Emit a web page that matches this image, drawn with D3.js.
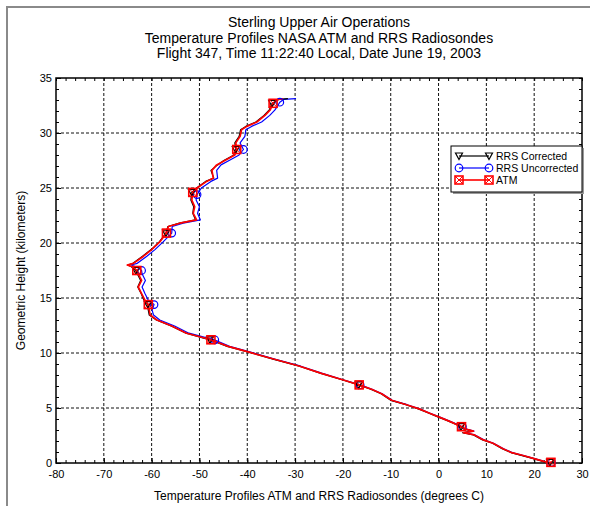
<!DOCTYPE html>
<html>
<head>
<meta charset="utf-8">
<script src="https://cdn.jsdelivr.net/npm/d3@7"></script>
<style>
  body { margin: 0; background: #fff; }
  svg { font-family: Arial, "Liberation Sans", sans-serif; }
</style>
</head>
<body>
<div id="chart"></div>
<script>
// 1: DATA (temperature degC, height km)
const titleLines = [
    "Sterling Upper Air Operations",
    "Temperature Profiles NASA ATM and RRS Radiosondes",
    "Flight 347, Time 11:22:40 Local, Date June 19, 2003"
];
const xTicks = [-80, -70, -60, -50, -40, -30, -20, -10, 0, 10, 20, 30];
const yTicks = [0, 5, 10, 15, 20, 25, 30, 35];
const seriesNames = ["RRS Corrected", "RRS Uncorrected", "ATM"];

const atmProfile = [
    [23.5, 0.0], [22.0, 0.15], [19.8, 0.42], [17.5, 0.7], [15.3, 0.94], [13.5, 1.3],
    [11.4, 1.8], [9.4, 2.1], [7.5, 2.55], [5.2, 2.75], [7.3, 2.9], [5.5, 3.1],
    [4.8, 3.3], [3.3, 3.6], [1.7, 3.9], [0.3, 4.15], [-2.0, 4.55], [-3.9, 4.9],
    [-6.7, 5.3], [-9.8, 5.7], [-11.9, 6.3], [-14.0, 6.7], [-16.6, 7.1], [-19.9, 7.55],
    [-24.5, 8.15], [-29.0, 8.8], [-34.5, 9.45], [-39.8, 10.1], [-44.0, 10.6], [-47.6, 11.2],
    [-52.7, 11.8], [-55.8, 12.45], [-58.9, 13.0], [-60.3, 13.45], [-60.5, 13.9], [-60.7, 14.4],
    [-61.4, 14.8], [-62.1, 15.4], [-62.8, 16.0], [-62.1, 16.6], [-62.8, 17.2], [-63.1, 17.5],
    [-63.8, 17.8], [-65.1, 18.0], [-63.8, 18.15], [-61.7, 18.8], [-60.0, 19.4], [-58.3, 20.1],
    [-56.9, 20.9], [-56.5, 21.5], [-54.1, 21.8], [-50.6, 22.1], [-51.3, 22.7], [-51.0, 23.3],
    [-51.6, 23.9], [-51.4, 24.6], [-50.5, 25.0], [-48.5, 25.6], [-47.1, 25.9], [-47.4, 26.6],
    [-46.4, 27.1], [-44.7, 27.5], [-42.6, 28.0], [-42.2, 28.5], [-42.4, 29.1], [-41.5, 29.7],
    [-41.2, 30.3], [-40.1, 30.6], [-38.0, 31.0], [-36.3, 31.6], [-35.2, 32.1], [-34.6, 32.7],
    [-33.6, 33.05], [-32.5, 33.1]
];
const rrsCorrected = [
    [23.3, 0.0], [21.8, 0.15], [19.7, 0.42], [17.3, 0.7], [15.2, 0.95], [13.3, 1.3],
    [11.3, 1.8], [9.2, 2.1], [7.3, 2.55], [5.0, 2.75], [7.1, 2.9], [5.3, 3.1],
    [4.7, 3.3], [3.2, 3.6], [1.6, 3.9], [0.1, 4.15], [-2.1, 4.55], [-4.1, 4.9],
    [-6.8, 5.3], [-10.0, 5.7], [-12.0, 6.3], [-14.2, 6.7], [-16.7, 7.1], [-20.0, 7.55],
    [-24.6, 8.15], [-29.1, 8.8], [-34.6, 9.45], [-39.9, 10.1], [-44.2, 10.6], [-47.8, 11.2],
    [-52.8, 11.8], [-55.9, 12.45], [-59.0, 13.0], [-60.5, 13.45], [-60.7, 13.9], [-60.8, 14.4],
    [-61.6, 14.8], [-62.2, 15.4], [-62.9, 16.0], [-62.3, 16.6], [-63.0, 17.2], [-63.3, 17.5],
    [-64.0, 17.8], [-65.0, 18.0], [-63.9, 18.15], [-61.9, 18.8], [-60.1, 19.4], [-58.4, 20.1],
    [-57.0, 20.9], [-56.6, 21.5], [-54.2, 21.8], [-50.8, 22.1], [-51.4, 22.7], [-51.2, 23.3],
    [-51.8, 23.9], [-51.6, 24.6], [-50.6, 25.0], [-48.7, 25.6], [-47.0, 25.9], [-47.6, 26.6],
    [-46.2, 27.1], [-44.9, 27.5], [-42.8, 28.0], [-42.4, 28.5], [-42.6, 29.1], [-41.7, 29.7],
    [-41.4, 30.3], [-40.3, 30.6], [-38.2, 31.0], [-36.5, 31.6], [-35.4, 32.1], [-34.8, 32.7],
    [-33.4, 33.05], [-31.5, 33.12]
];
const rrsUncorrected = [
    [23.6, 0.0], [22.1, 0.15], [19.9, 0.42], [17.6, 0.7], [15.4, 0.94], [13.6, 1.3],
    [11.5, 1.8], [9.5, 2.1], [7.6, 2.55], [5.3, 2.75], [7.4, 2.9], [5.6, 3.1],
    [5.0, 3.3], [3.4, 3.6], [1.8, 3.9], [0.4, 4.15], [-1.9, 4.55], [-3.8, 4.9],
    [-6.6, 5.3], [-9.7, 5.7], [-11.8, 6.3], [-13.9, 6.7], [-16.4, 7.1], [-19.8, 7.55],
    [-24.3, 8.15], [-28.8, 8.8], [-34.3, 9.45], [-39.5, 10.1], [-43.7, 10.6], [-46.9, 11.2],
    [-52.2, 11.8], [-55.2, 12.45], [-58.3, 13.0], [-59.6, 13.45], [-59.9, 13.9], [-59.5, 14.4],
    [-60.7, 14.8], [-61.4, 15.4], [-62.0, 16.0], [-61.3, 16.6], [-62.0, 17.2], [-62.1, 17.5],
    [-63.0, 17.8], [-64.3, 18.0], [-63.0, 18.15], [-61.0, 18.8], [-59.3, 19.4], [-57.6, 20.1],
    [-55.8, 20.9], [-55.7, 21.5], [-53.4, 21.8], [-49.8, 22.1], [-50.4, 22.7], [-50.0, 23.3],
    [-50.7, 23.9], [-50.5, 24.4], [-49.6, 25.0], [-47.6, 25.6], [-46.2, 25.9], [-46.4, 26.6],
    [-45.5, 27.1], [-43.8, 27.5], [-41.7, 28.0], [-40.8, 28.5], [-41.5, 29.1], [-40.5, 29.7],
    [-40.3, 30.3], [-39.1, 30.6], [-37.0, 31.0], [-35.3, 31.6], [-34.2, 32.1], [-33.2, 32.8],
    [-32.4, 33.05], [-29.8, 33.12]
];

const atmMarkers = [
    [23.5, 0.06], [4.8, 3.3], [-16.6, 7.1], [-47.6, 11.2], [-60.7, 14.4],
    [-63.1, 17.5], [-56.9, 20.9], [-51.4, 24.6], [-42.2, 28.5], [-34.6, 32.7]
];
const correctedMarkers = [
    [23.3, 0.05], [4.7, 3.3], [-16.7, 7.1], [-47.8, 11.2], [-60.8, 14.4],
    [-63.3, 17.5], [-57.0, 20.9], [-51.6, 24.6], [-42.4, 28.5], [-34.8, 32.7]
];
const uncorrectedMarkers = [
    [23.6, 0.05], [5.0, 3.3], [-16.4, 7.1], [-46.8, 11.2], [-59.5, 14.4],
    [-62.1, 17.5], [-55.8, 20.9], [-50.5, 24.4], [-40.8, 28.5], [-33.2, 32.8]
];

// 2: SIZES
const W = 590, H = 506;
const margin = { top: 78, right: 8, bottom: 43, left: 56 };
const width = W - margin.left - margin.right;
const height = H - margin.top - margin.bottom;

const svgRoot = d3.select("#chart").append("svg")
    .attr("width", W)
    .attr("height", H);

// outer frame (only top and left visible)
svgRoot.append("path")
    .attr("d", `M7,${H} V7 H${W}`)
    .attr("fill", "none")
    .attr("stroke", "#8a8a8a")
    .attr("stroke-width", 2);

// titles
svgRoot.append("g")
    .selectAll("text")
    .data(titleLines)
    .join("text")
    .attr("x", margin.left + width / 2)
    .attr("y", (d, i) => 27 + i * 15.5)
    .attr("text-anchor", "middle")
    .style("font-size", "14px")
    .text(d => d);

const svg = svgRoot.append("g")
    .attr("transform", `translate(${margin.left},${margin.top})`);

// scales
const x = d3.scaleLinear().domain([-80, 30]).range([0, width]);
const y = d3.scaleLinear().domain([0, 35]).range([height, 0]);

// grid
svg.append("g")
    .selectAll("line")
    .data(xTicks.slice(1, -1))
    .join("line")
    .attr("x1", d => x(d)).attr("x2", d => x(d))
    .attr("y1", 0).attr("y2", height)
    .attr("stroke", "#111")
    .attr("stroke-dasharray", "3,2");

svg.append("g")
    .selectAll("line")
    .data(yTicks.slice(1, -1))
    .join("line")
    .attr("y1", d => y(d)).attr("y2", d => y(d))
    .attr("x1", 0).attr("x2", width)
    .attr("stroke", "#111")
    .attr("stroke-dasharray", "3,2");

// minor ticks (inward) on all four sides
const xMinor = d3.range(-80, 31, 2);
const yMinor = d3.range(0, 36, 1);
svg.append("g").attr("transform", `translate(0,${height})`)
    .call(d3.axisBottom(x).tickValues(xMinor).tickSize(-3).tickFormat(""))
    .call(g => g.select(".domain").remove());
svg.append("g")
    .call(d3.axisTop(x).tickValues(xMinor).tickSize(-3).tickFormat(""))
    .call(g => g.select(".domain").remove());
svg.append("g")
    .call(d3.axisLeft(y).tickValues(yMinor).tickSize(-3).tickFormat(""))
    .call(g => g.select(".domain").remove());
svg.append("g").attr("transform", `translate(${width},0)`)
    .call(d3.axisRight(y).tickValues(yMinor).tickSize(-3).tickFormat(""))
    .call(g => g.select(".domain").remove());

// major axes with labels (plain hyphen minus like the original)
svg.append("g").attr("transform", `translate(0,${height})`)
    .call(d3.axisBottom(x).tickValues(xTicks).tickSize(-5).tickPadding(7).tickFormat(d => String(d)))
    .call(g => g.select(".domain").remove())
    .call(g => g.selectAll("text").style("font-size", "11px").attr("fill", "#000")
        .attr("font-family", "Arial, 'Liberation Sans', sans-serif"));
svg.append("g")
    .call(d3.axisLeft(y).tickValues(yTicks).tickSize(-5).tickPadding(4).tickFormat(d => String(d)))
    .call(g => g.select(".domain").remove())
    .call(g => g.selectAll("text").style("font-size", "11px").attr("fill", "#000")
        .attr("font-family", "Arial, 'Liberation Sans', sans-serif"));

// frame of plot
svg.append("rect")
    .attr("width", width)
    .attr("height", height)
    .attr("fill", "none")
    .attr("stroke", "#000")
    .attr("stroke-width", 1.5);

// axis titles
svg.append("text")
    .attr("x", width / 2)
    .attr("y", height + 37)
    .attr("text-anchor", "middle")
    .style("font-size", "12px")
    .text("Temperature Profiles ATM and RRS Radiosondes (degrees C)");

svg.append("text")
    .attr("transform", "rotate(-90)")
    .attr("x", -height / 2)
    .attr("y", -31)
    .attr("text-anchor", "middle")
    .style("font-size", "12px")
    .text("Geometric Height (kilometers)");

// 3: LINES AND MARKERS
const line = d3.line()
    .x(d => x(d[0]))
    .y(d => y(d[1]));

const plot = svg.append("g");

function drawMarker(g, kind, px, py, color) {
    if (kind === "tri") {
        g.append("path")
            .attr("d", `M${px - 3.5},${py - 3} L${px + 3.5},${py - 3} L${px},${py + 3.5} Z`)
            .attr("fill", "none").attr("stroke", color).attr("stroke-width", 1.2);
    } else if (kind === "circle") {
        g.append("circle")
            .attr("cx", px).attr("cy", py).attr("r", 3.8)
            .attr("fill", "none").attr("stroke", color).attr("stroke-width", 1.2);
    } else {
        g.append("rect")
            .attr("x", px - 4).attr("y", py - 4).attr("width", 8).attr("height", 8)
            .attr("fill", "none").attr("stroke", color).attr("stroke-width", 1.6);
        g.append("path")
            .attr("d", `M${px - 4},${py - 4} L${px + 4},${py + 4} M${px + 4},${py - 4} L${px - 4},${py + 4}`)
            .attr("stroke", color).attr("stroke-width", 1);
    }
}

const series = [
    { name: seriesNames[1], data: rrsUncorrected, marks: uncorrectedMarkers, color: "#0000ff", kind: "circle", w: 1.2 },
    { name: seriesNames[0], data: rrsCorrected, marks: correctedMarkers, color: "#000000", kind: "tri", w: 1.2 },
    { name: seriesNames[2], data: atmProfile, marks: atmMarkers, color: "#ff0000", kind: "square", w: 1.7 }
];

for (const s of series) {
    plot.append("path")
        .datum(s.data)
        .attr("fill", "none")
        .attr("stroke", s.color)
        .attr("stroke-width", s.w)
        .attr("stroke-linejoin", "round")
        .attr("d", line);
}
for (const s of series) {
    const mg = plot.append("g");
    s.marks.forEach(d => drawMarker(mg, s.kind, x(d[0]), y(d[1]), s.color));
}

// 4: LEGEND
const legend = svgRoot.append("g").attr("transform", "translate(451,146)");
legend.append("rect")
    .attr("x", 2).attr("y", 2).attr("width", 131).attr("height", 46)
    .attr("fill", "#999");
legend.append("rect")
    .attr("width", 131).attr("height", 46)
    .attr("fill", "#fff").attr("stroke", "#000").attr("stroke-width", 1);

const legendItems = [
    { name: seriesNames[0], color: "#000000", kind: "tri" },
    { name: seriesNames[1], color: "#0000ff", kind: "circle" },
    { name: seriesNames[2], color: "#ff0000", kind: "square" }
];
legendItems.forEach((d, i) => {
    const ly = 10 + i * 12;
    const item = legend.append("g");
    item.append("line")
        .attr("x1", 8).attr("x2", 38).attr("y1", ly).attr("y2", ly)
        .attr("stroke", d.color).attr("stroke-width", d.kind === "square" ? 1.6 : 1.2);
    drawMarker(item, d.kind, 8, ly, d.color);
    drawMarker(item, d.kind, 38, ly, d.color);
    item.append("text")
        .attr("x", 45).attr("y", ly).attr("dy", "0.35em")
        .style("font-size", "10.5px")
        .text(d.name);
});
</script>
</body>
</html>
